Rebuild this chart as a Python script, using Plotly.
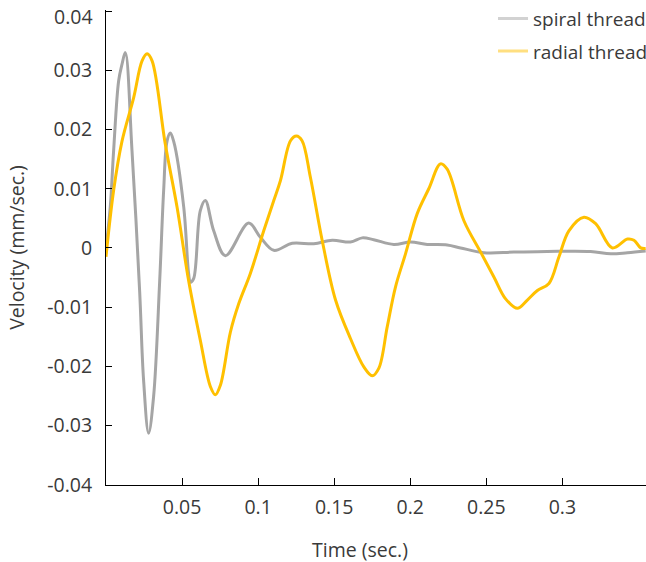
import plotly.graph_objects as go

spiral_t = [0.0, 0.0028, 0.005, 0.0083, 0.0105, 0.0127, 0.0171, 0.0221, 0.0247, 0.028, 0.0313,
            0.0353, 0.0379, 0.0401, 0.0423, 0.0445, 0.0511, 0.0543, 0.0555, 0.0576, 0.062, 0.0653,
            0.0708, 0.0785, 0.0938, 0.1015, 0.1103, 0.1224, 0.1366, 0.1487, 0.1607, 0.1684, 0.176,
            0.1892, 0.2002, 0.2112, 0.2243, 0.2331, 0.2484, 0.2682, 0.290, 0.3186, 0.3318, 0.3428, 0.3548]
spiral_v = [0.0, 0.0069, 0.0164, 0.0282, 0.031, 0.033, 0.0164, -0.0072, -0.0223, -0.0313, -0.0251,
            -0.0055, 0.0097, 0.018, 0.0194, 0.018, 0.0069, -0.0043, -0.0058, -0.0052, 0.0063, 0.008,
            0.0029, -0.0013, 0.0042, 0.0018, -0.0004, 0.0008, 0.0007, 0.0013, 0.0010, 0.0017, 0.0014,
            0.0006, 0.0010, 0.0006, 0.0005, 0.0000, -0.0008, -0.0007, -0.0006, -0.0006, -0.001, -0.0008, -0.0005]

radial_t = [0.0, 0.005, 0.0105, 0.0182, 0.0237, 0.027, 0.0303, 0.039, 0.0467, 0.0543, 0.062, 0.0686,
            0.0719, 0.0752, 0.0818, 0.0873, 0.0949, 0.1037, 0.1103, 0.1147, 0.1213, 0.1252, 0.1289,
            0.1344, 0.1421, 0.1509, 0.1607, 0.1695, 0.175, 0.1794, 0.1849, 0.1903, 0.1969, 0.2046,
            0.2122, 0.2199, 0.2243, 0.2353, 0.2463, 0.255, 0.2627, 0.2704, 0.277, 0.2836, 0.2912,
            0.2978, 0.3043, 0.3142, 0.3219, 0.3329, 0.3428, 0.3471, 0.3515, 0.3548]
radial_v = [-0.0015, 0.0097, 0.018, 0.0254, 0.0316, 0.0328, 0.0316, 0.0175, 0.0069, -0.0055, -0.0156,
            -0.0234, -0.0248, -0.0232, -0.0142, -0.0094, -0.0043, 0.0029, 0.008, 0.0114, 0.0181, 0.0189,
            0.0181, 0.0119, 0.0013, -0.0088, -0.0153, -0.0201, -0.0216, -0.0203, -0.0133, -0.0066, -0.001,
            0.0058, 0.010, 0.0142, 0.0133, 0.0046, -0.0007, -0.0049, -0.0086, -0.0102, -0.0088, -0.0072,
            -0.006, -0.0015, 0.0029, 0.0052, 0.0041, 0.0000, 0.0015, 0.0013, 0.0, -0.0001]

y_ticks = [0.04, 0.03, 0.02, 0.01, 0, -0.01, -0.02, -0.03, -0.04]
y_labels = ["0.04", "0.03", "0.02", "0.01", "0", "-0.01", "-0.02", "-0.03", "-0.04"]
x_ticks = [0.05, 0.1, 0.15, 0.2, 0.25, 0.3]
x_labels = ["0.05", "0.1", "0.15", "0.2", "0.25", "0.3"]
x_title = "Time (sec.)"
y_title = "Velocity (mm/sec.)"

GRAY = "#a5a5a5"
GOLD = "#ffc000"
TXT = "#3a3a3a"

fig = go.Figure()
fig.add_trace(go.Scatter(x=spiral_t, y=spiral_v, mode="lines", line=dict(color=GRAY, width=3, shape="spline"),
                         showlegend=False))
fig.add_trace(go.Scatter(x=radial_t, y=radial_v, mode="lines", line=dict(color=GOLD, width=3, shape="spline"),
                         showlegend=False))
fig.add_trace(go.Scatter(x=[None], y=[None], mode="lines", name="spiral thread",
                         line=dict(color="#d2d2d2", width=3), legendgroup="a"))
fig.add_trace(go.Scatter(x=[None], y=[None], mode="lines", name="radial thread",
                         line=dict(color="#ffdf80", width=3), legendgroup="b"))

# the top tick label is drawn as an annotation so it can sit fully inside the page
ytext = [("" if v == y_ticks[0] else t) for v, t in zip(y_ticks, y_labels)]

font = "Open Sans, Noto Sans, sans-serif"
FS = 19.5
fig.update_layout(
    width=646, height=562,
    margin=dict(l=106, r=0, t=10, b=77, autoexpand=False),
    paper_bgcolor="white", plot_bgcolor="white",
    font=dict(family=font, size=FS, color=TXT),
    legend=dict(x=1.013, y=1.022, xanchor="right", yanchor="top", bgcolor="rgba(0,0,0,0)",
                traceorder="grouped", tracegroupgap=5, itemwidth=30,
                font=dict(size=19, color=TXT)),
    xaxis=dict(range=[0, 0.355], tickvals=x_ticks, ticktext=x_labels, ticks="inside", ticklen=7,
               tickcolor="#000", showline=True, linecolor="#000", linewidth=1, showgrid=False,
               zeroline=False, automargin=False, ticklabelstandoff=5, tickfont=dict(size=FS)),
    yaxis=dict(range=[-0.04005, 0.0402], tickvals=y_ticks, ticktext=ytext, ticks="inside", ticklen=6,
               tickcolor="#000", showline=True, linecolor="#000", linewidth=1, showgrid=False,
               zeroline=False, automargin=False, ticklabelstandoff=9, tickfont=dict(size=FS),
               ticklabeloverflow="allow",
               title=dict(text=y_title, standoff=17, font=dict(size=FS))),
    annotations=[
        dict(text=y_labels[0], xref="paper", x=0, xanchor="right", xshift=-11,
             yref="y", y=y_ticks[0], yanchor="middle", yshift=-5, showarrow=False,
             font=dict(size=FS, color=TXT)),
        dict(text=x_title, xref="paper", x=0.47, xanchor="center",
             yref="paper", y=0, yanchor="middle", yshift=-64, showarrow=False,
             font=dict(size=FS, color=TXT)),
    ],
)
fig.write_html("out.html", config={"displayModeBar": False},
               post_script="document.body.style.margin='0';document.body.style.overflow='hidden';")
